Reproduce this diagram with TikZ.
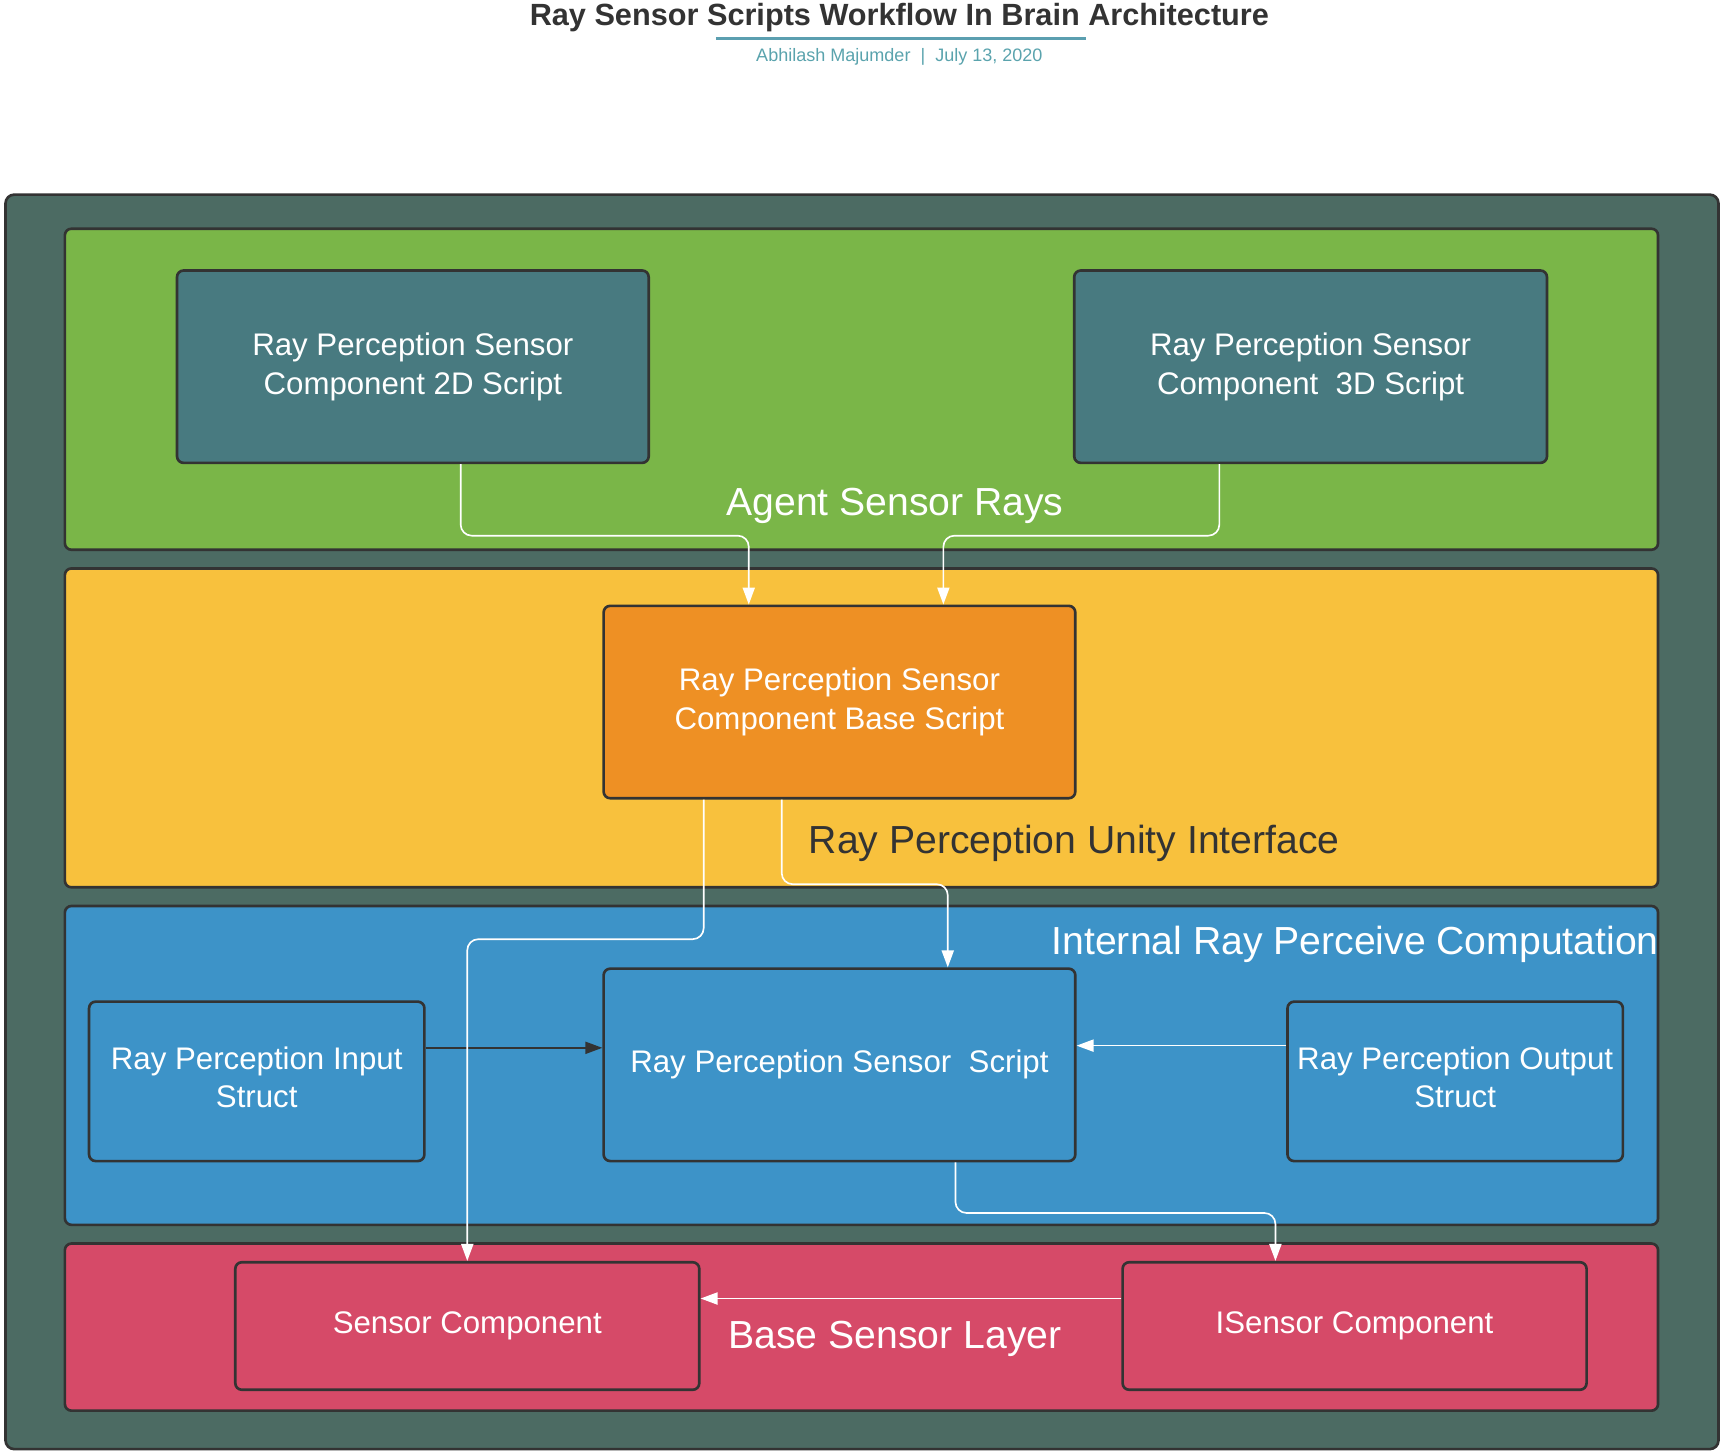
\documentclass[tikz,border=0pt]{standalone}
\usepackage{fontspec}
\setmainfont{Liberation Sans}
\usetikzlibrary{arrows.meta,calc}
\definecolor{outerc}{HTML}{4C6B63}
\definecolor{edgec}{HTML}{333333}
\definecolor{greenc}{HTML}{7AB648}
\definecolor{tealc}{HTML}{487A80}
\definecolor{yellowc}{HTML}{F8C13D}
\definecolor{orangec}{HTML}{EE9024}
\definecolor{bluec}{HTML}{3D93C8}
\definecolor{redc}{HTML}{D64A68}
\definecolor{subc}{HTML}{5AA3AD}
\definecolor{linec}{HTML}{5B9FB0}
\tikzset{
  band/.style={draw=edgec, line width=1.2pt, rounded corners=3pt},
  boxnode/.style={draw=edgec, line width=1.2pt, rounded corners=3pt, align=center,
    text=white, font=\fontsize{14.2pt}{17.5pt}\selectfont, inner sep=0pt},
  bandlabel/.style={font=\fontsize{17.8pt}{21pt}\selectfont, inner sep=0pt},
  wire/.style={draw=white, line width=0.75pt, rounded corners=5pt,
    -{Triangle[length=7.7pt,width=5.5pt]}},
  darkwire/.style={draw=edgec, line width=0.75pt,
    -{Triangle[length=7.7pt,width=5.5pt]}},
}
\begin{document}
\begin{tikzpicture}[x=0.5pt,y=-0.5pt]
\useasboundingbox (0,0) rectangle (1568,1323.3);
% title
\node[font=\bfseries\fontsize{13.95pt}{16pt}\selectfont, text=edgec, inner sep=0pt] (title) at (818,16) {Ray Sensor Scripts Workflow In Brain Architecture};
\draw[linec, line width=1pt] (651,35) -- (988,35);
\node[font=\fontsize{8.2pt}{10pt}\selectfont, text=subc, inner sep=0pt] (sub) at (818,52) {Abhilash Majumder\ \ |\ \ July 13, 2020};
% outer frame and bands
\draw[band, fill=outerc, rounded corners=4pt] (5,177) rectangle (1563,1318);
\draw[band, fill=greenc] (59,208) rectangle (1508,500);
\draw[band, fill=yellowc] (59,517) rectangle (1508,807);
\draw[band, fill=bluec] (59,824) rectangle (1508,1114);
\draw[band, fill=redc] (59,1131) rectangle (1508,1283);
% band labels
\node[bandlabel, text=white] (lagent) at (814,460) {Agent Sensor Rays};
\node[bandlabel, text=edgec] (lunity) at (977,767) {Ray Perception Unity Interface};
\node[bandlabel, text=white, anchor=east] (lint) at (1509,859) {Internal Ray Perceive Computation};
\node[bandlabel, text=white] (lbase) at (814,1218) {Base Sensor Layer};
% boxes
\node[boxnode, fill=tealc, minimum width=214.5pt, minimum height=87.5pt] (b2d) at (375.5,333.5) {Ray Perception Sensor\\Component 2D Script};
\node[boxnode, fill=tealc, minimum width=215pt, minimum height=87.5pt] (b3d) at (1192,333.5) {Ray Perception Sensor\\Component\ \ 3D Script};
\node[boxnode, fill=orangec, minimum width=214.5pt, minimum height=87.5pt] (base) at (763.5,638.5) {Ray Perception Sensor\\Component Base Script};
\node[boxnode, fill=bluec, minimum width=152.5pt, minimum height=72.5pt, text depth=4pt] (input) at (233.5,983.5) {Ray Perception Input\\Struct};
\node[boxnode, fill=bluec, minimum width=214.5pt, minimum height=87.5pt] (script) at (763.5,968.5) {Ray Perception Sensor\ \ Script};
\node[boxnode, fill=bluec, minimum width=152.5pt, minimum height=72.5pt, text depth=4pt] (output) at (1323.5,983.5) {Ray Perception Output\\Struct};
\node[boxnode, fill=redc, minimum width=211pt, minimum height=58pt] (sc) at (425,1206) {Sensor Component};
\node[boxnode, fill=redc, minimum width=211pt, minimum height=58pt] (isc) at (1232,1206) {ISensor Component};
% connectors
\coordinate (a5) at ([yshift=15.25pt]input.east);
\draw[darkwire] (a5) -- (a5 -| script.west);
\draw[wire] ([xshift=21.75pt]b2d.south) -- ++(0,65) -| ([xshift=-41.25pt]base.north);
\draw[wire] ([xshift=-41.5pt]b3d.south) -- ++(0,65) -| ([xshift=47.25pt]base.north);
\draw[wire] ([xshift=-61.75pt]base.south) -- ++(0,127) -| (sc.north);
\draw[wire] ([xshift=-26.25pt]base.south) -- ++(0,77) -| ([xshift=49.25pt]script.north);
\coordinate (a6) at ([yshift=16.25pt]output.west);
\draw[wire] (a6) -- (a6 -| script.east);
\draw[wire] ([xshift=52.75pt]script.south) -- ++(0,46) -| ([xshift=-36pt]isc.north);
\coordinate (a8) at ([yshift=12.5pt]isc.west);
\draw[wire] (a8) -- (a8 -| sc.east);
\end{tikzpicture}
\end{document}
